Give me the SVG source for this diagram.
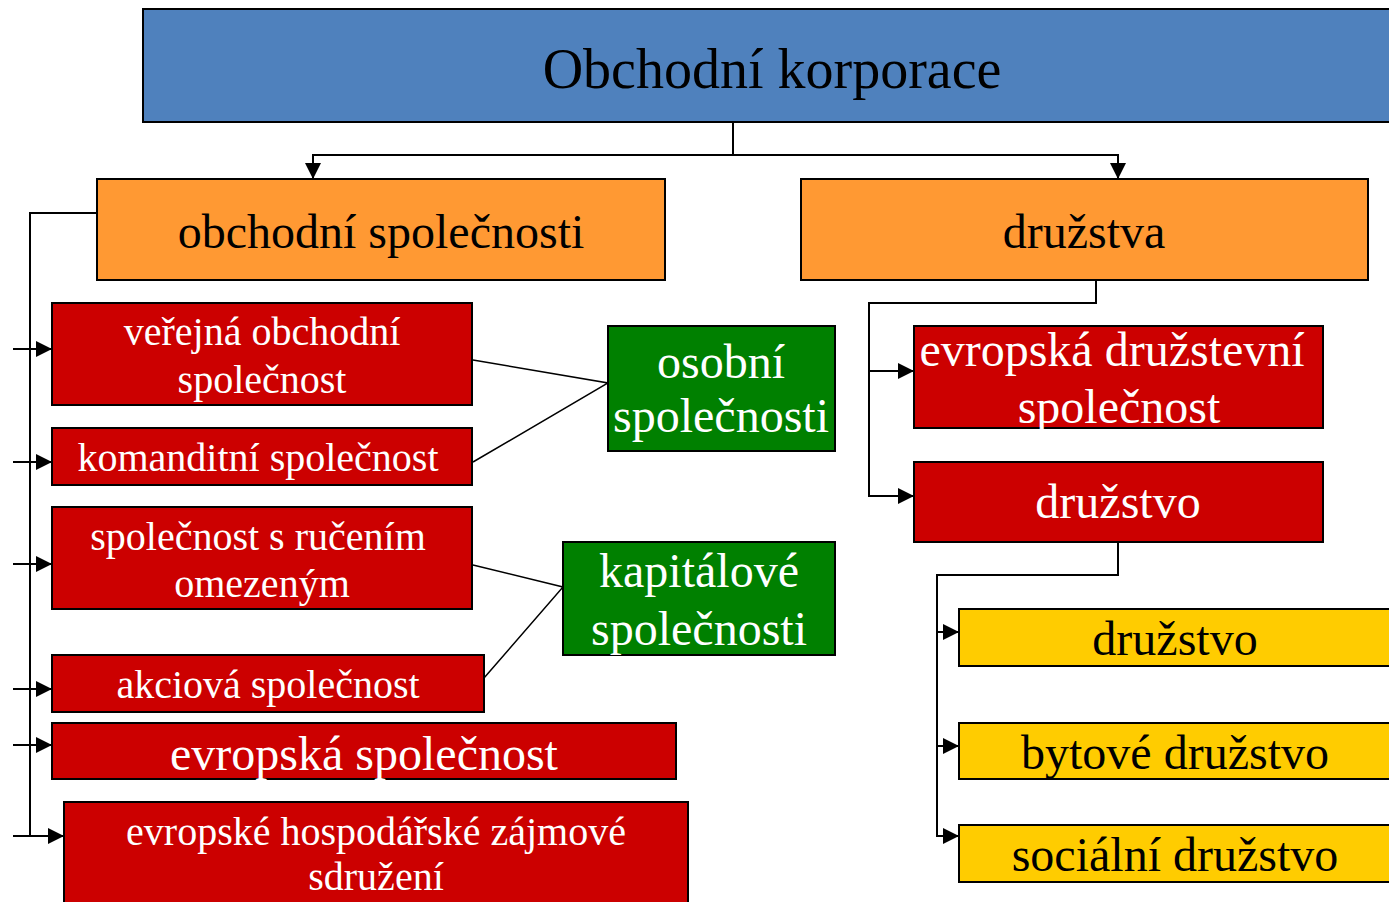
<svg xmlns="http://www.w3.org/2000/svg" width="1389" height="902" viewBox="0 0 1389 902">
<style>
.box{stroke:#000;stroke-width:2}
.blue{fill:#4F81BD}
.orange{fill:#FF9933}
.red{fill:#CC0000}
.green{fill:#008000}
.yellow{fill:#FFCC00}
text{font-family:"Liberation Serif","Times New Roman",serif;text-anchor:middle}
.dk{fill:#000}
.wt{fill:#fff}
.f56{font-size:56px}
.f48{font-size:48px}
.f40{font-size:40px}
.conn{fill:none;stroke:#000;stroke-width:2}
.thin{fill:none;stroke:#000;stroke-width:1.5}
</style>
<defs>
<marker id="ah" markerUnits="userSpaceOnUse" markerWidth="16" markerHeight="16" refX="16" refY="8" orient="auto" overflow="visible">
<path d="M0,0 L16,8 L0,16 z" fill="#000"/>
</marker>
</defs>
<rect width="1389" height="902" fill="#fff"/>

<g id="connectors">
<path class="conn" d="M733,122 V155 H313 V179" marker-end="url(#ah)"/>
<path class="conn" d="M733,155 H1118 V179" marker-end="url(#ah)"/>
<path class="conn" d="M97,213 H30 V836"/>
<path class="conn" d="M13,349 H52" marker-end="url(#ah)"/>
<path class="conn" d="M13,462 H52" marker-end="url(#ah)"/>
<path class="conn" d="M13,564 H52" marker-end="url(#ah)"/>
<path class="conn" d="M13,689 H52" marker-end="url(#ah)"/>
<path class="conn" d="M13,745 H52" marker-end="url(#ah)"/>
<path class="conn" d="M13,836 H64" marker-end="url(#ah)"/>
<path class="thin" d="M473,360 L608,383 L473,462"/>
<path class="thin" d="M473,565 L563,587 L484,678"/>
<path class="conn" d="M1096,280 V303 H869 V496 H914" marker-end="url(#ah)"/>
<path class="conn" d="M869,371 H914" marker-end="url(#ah)"/>
<path class="conn" d="M1118,542 V575 H937 V836 H959" marker-end="url(#ah)"/>
<path class="conn" d="M937,632 H959" marker-end="url(#ah)"/>
<path class="conn" d="M937,746 H959" marker-end="url(#ah)"/>
</g>

<g id="n-korporace">
<rect class="box blue" x="143" y="9" width="1252" height="113"/>
<text class="dk f56" x="772" y="88">Obchodní korporace</text>
</g>
<g id="n-obchodni-spolecnosti">
<rect class="box orange" x="97" y="179" width="568" height="101"/>
<text class="dk f48" x="381" y="248">obchodní společnosti</text>
</g>
<g id="n-druzstva">
<rect class="box orange" x="801" y="179" width="567" height="101"/>
<text class="dk f48" x="1084" y="248">družstva</text>
</g>

<g id="n-vos">
<rect class="box red" x="52" y="303" width="420" height="102"/>
<text class="wt f40" x="262" y="345">veřejná obchodní</text>
<text class="wt f40" x="262" y="393">společnost</text>
</g>
<g id="n-ks">
<rect class="box red" x="52" y="428" width="420" height="57"/>
<text class="wt f40" x="258" y="471">komanditní společnost</text>
</g>
<g id="n-sro">
<rect class="box red" x="52" y="507" width="420" height="102"/>
<text class="wt f40" x="258" y="550">společnost s ručením</text>
<text class="wt f40" x="262" y="597">omezeným</text>
</g>
<g id="n-as">
<rect class="box red" x="52" y="655" width="432" height="57"/>
<text class="wt f40" x="268" y="698">akciová společnost</text>
</g>
<g id="n-se">
<rect class="box red" x="52" y="723" width="624" height="56"/>
<text class="wt f48" x="364" y="770">evropská společnost</text>
</g>
<g id="n-ehzs">
<rect class="box red" x="64" y="802" width="624" height="110"/>
<text class="wt f40" x="376" y="845">evropské hospodářské zájmové</text>
<text class="wt f40" x="376" y="890">sdružení</text>
</g>

<g id="n-osobni">
<rect class="box green" x="608" y="326" width="227" height="125"/>
<text class="wt f48" x="721" y="378">osobní</text>
<text class="wt f48" x="721" y="432">společnosti</text>
</g>
<g id="n-kapitalove">
<rect class="box green" x="563" y="542" width="272" height="113"/>
<text class="wt f48" x="699" y="587">kapitálové</text>
<text class="wt f48" x="699" y="645">společnosti</text>
</g>

<g id="n-evropska-druzstevni">
<rect class="box red" x="914" y="326" width="409" height="102"/>
<text class="wt f48" x="1112" y="366">evropská družstevní</text>
<text class="wt f48" x="1119" y="423">společnost</text>
</g>
<g id="n-druzstvo">
<rect class="box red" x="914" y="462" width="409" height="80"/>
<text class="wt f48" x="1118" y="518">družstvo</text>
</g>

<g id="n-druzstvo2">
<rect class="box yellow" x="959" y="609" width="440" height="57"/>
<text class="dk f48" x="1175" y="655">družstvo</text>
</g>
<g id="n-bytove">
<rect class="box yellow" x="959" y="723" width="440" height="56"/>
<text class="dk f48" x="1175" y="769">bytové družstvo</text>
</g>
<g id="n-socialni">
<rect class="box yellow" x="959" y="825" width="440" height="57"/>
<text class="dk f48" x="1175" y="871">sociální družstvo</text>
</g>
</svg>
